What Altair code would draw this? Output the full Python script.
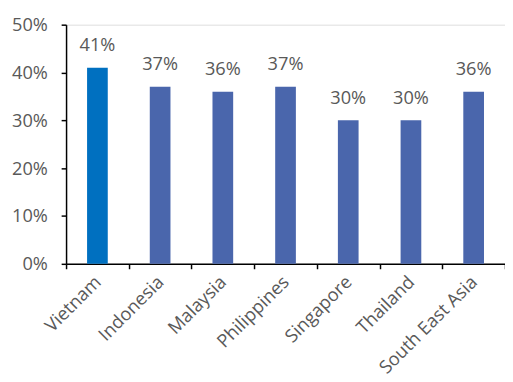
import altair as alt
import pandas as pd

countries = ["Vietnam", "Indonesia", "Malaysia", "Philippines", "Singapore", "Thailand", "South East Asia"]
values = [0.41, 0.37, 0.36, 0.37, 0.30, 0.30, 0.36]
colors = ["#0070C0", "#4A66AC", "#4A66AC", "#4A66AC", "#4A66AC", "#4A66AC", "#4A66AC"]
y_ticks = [0, 0.1, 0.2, 0.3, 0.4, 0.5]

df = pd.DataFrame({"country": countries, "value": values, "color": colors})

FONT = "Open Sans"
GRAY = "#595959"
FS = 18.5

x = alt.X("country:N", sort=countries, title=None,
          scale=alt.Scale(paddingInner=0, paddingOuter=0),
          axis=alt.Axis(labelAngle=-45, labelAlign="right", labelBaseline="middle",
                        labelPadding=10, tickBand="extent", tickSize=5,
                        tickColor="black", domainColor="black", domainWidth=1.5,
                        tickWidth=1.5, labelColor=GRAY, labelFont=FONT,
                        labelFontSize=FS, grid=False))
y = alt.Y("value:Q", title=None,
          scale=alt.Scale(domain=[0, 0.5], nice=False),
          axis=alt.Axis(values=y_ticks, format=".0%", tickSize=5, tickColor="black",
                        domainColor="black", domainWidth=1.5, tickWidth=1.5,
                        labelColor=GRAY, labelFont=FONT, labelFontSize=FS,
                        labelPadding=14, grid=False))

bars = alt.Chart(df).mark_bar(width=alt.RelativeBandSize(0.33)).encode(
    x=x, y=y, color=alt.Color("color:N", scale=None))

labels = alt.Chart(df).mark_text(dy=-17, baseline="alphabetic", font=FONT,
                                 fontSize=FS, color=GRAY).encode(
    x=alt.X("country:N", sort=countries),
    y=alt.Y("value:Q"),
    text=alt.Text("value:Q", format=".0%"))

chart = (bars + labels).properties(
    width=446, height=243,
    autosize=alt.AutoSizeParams(type="none"),
    padding={"left": 59, "top": 14, "right": 0, "bottom": 109},
).configure_view(stroke=None).configure(background="white")

chart.save("out.html", embed_options={"renderer": "svg", "actions": False})
